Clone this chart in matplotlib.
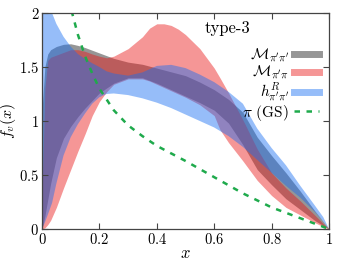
import numpy as np
import matplotlib
matplotlib.use("Agg")
import matplotlib.pyplot as plt
from matplotlib.lines import Line2D

plt.rcParams['mathtext.fontset'] = 'cm'
plt.rcParams['font.family'] = ['cmr10', 'DejaVu Serif']
plt.rcParams['axes.formatter.use_mathtext'] = True

# ---- data ----
x_g = [0, 0.01, 0.02, 0.03, 0.05, 0.075, 0.1, 0.125, 0.15, 0.175, 0.2, 0.25, 0.3, 0.35,
       0.4, 0.45, 0.5, 0.55, 0.6, 0.65, 0.7, 0.75, 0.8, 0.85, 0.9, 0.95, 0.98, 1.0]
gray_up = [1.1, 1.5, 1.62, 1.66, 1.69, 1.71, 1.715, 1.70, 1.68, 1.655, 1.63, 1.58, 1.545, 1.525,
           1.49, 1.455, 1.42, 1.36, 1.29, 1.20, 1.08, 0.85, 0.68, 0.52, 0.35, 0.17, 0.07, 0.0]
gray_lo = [0.0, 0.12, 0.27, 0.42, 0.66, 0.84, 0.95, 1.04, 1.12, 1.19, 1.26, 1.35, 1.40, 1.40,
           1.35, 1.29, 1.23, 1.17, 1.10, 0.98, 0.78, 0.55, 0.41, 0.28, 0.18, 0.08, 0.03, 0.0]

x_r = [0, 0.01, 0.02, 0.03, 0.05, 0.075, 0.1, 0.125, 0.15, 0.175, 0.2, 0.225, 0.25, 0.3, 0.35,
       0.375, 0.4, 0.425, 0.45, 0.475, 0.5, 0.55, 0.6, 0.62, 0.65, 0.7, 0.75, 0.8, 0.85, 0.9, 0.95, 0.98, 1.0]
red_up = [0.3, 1.3, 1.56, 1.59, 1.61, 1.635, 1.66, 1.66, 1.645, 1.62, 1.60, 1.585, 1.60, 1.67, 1.78,
          1.86, 1.90, 1.90, 1.885, 1.85, 1.80, 1.67, 1.49, 1.40, 1.26, 1.01, 0.74, 0.52, 0.38, 0.26, 0.13, 0.05, 0.0]
red_lo = [0.0, 0.01, 0.04, 0.08, 0.20, 0.38, 0.55, 0.72, 0.88, 1.05, 1.18, 1.27, 1.34, 1.39, 1.39,
          1.37, 1.34, 1.31, 1.28, 1.25, 1.22, 1.15, 1.05, 0.92, 0.80, 0.63, 0.45, 0.31, 0.20, 0.13, 0.06, 0.02, 0.0]

x_b = [0, 0.01, 0.02, 0.035, 0.05, 0.075, 0.1, 0.125, 0.15, 0.175, 0.2, 0.225, 0.25, 0.3, 0.35,
       0.4, 0.45, 0.5, 0.55, 0.6, 0.65, 0.7, 0.75, 0.8, 0.85, 0.9, 0.95, 0.98, 1.0]
blue_up = [3.0, 2.6, 2.3, 2.0, 1.9, 1.78, 1.69, 1.62, 1.575, 1.535, 1.50, 1.46, 1.44, 1.42, 1.45,
           1.51, 1.52, 1.49, 1.43, 1.36, 1.27, 1.16, 0.93, 0.75, 0.59, 0.40, 0.22, 0.11, 0.0]
blue_lo = [0.0, 0.06, 0.13, 0.24, 0.42, 0.68, 0.85, 0.97, 1.07, 1.16, 1.22, 1.25, 1.255, 1.24, 1.21,
           1.17, 1.12, 1.06, 1.00, 0.94, 0.86, 0.76, 0.64, 0.52, 0.40, 0.29, 0.16, 0.07, 0.0]

x_gs = [0.08, 0.1, 0.125, 0.15, 0.175, 0.2, 0.25, 0.3, 0.35, 0.4, 0.45, 0.5, 0.55, 0.6, 0.65,
        0.7, 0.75, 0.8, 0.85, 0.9, 0.95, 1.0]
gs = [2.45, 2.05, 1.80, 1.60, 1.44, 1.30, 1.10, 0.96, 0.86, 0.77, 0.70, 0.63, 0.555, 0.48, 0.405,
      0.33, 0.265, 0.20, 0.15, 0.10, 0.05, 0.0]

labels = [r"$\mathcal{M}_{\pi'\pi'}$", r"$\mathcal{M}_{\pi'\pi}$", r"$h^{R}_{\pi'\pi'}$", r"$\pi$ (GS)"]
xticks = [0, 0.2, 0.4, 0.6, 0.8, 1]
xticklabels = ["$0$", "$0.2$", "$0.4$", "$0.6$", "$0.8$", "$1$"]
yticks = [0, 0.5, 1, 1.5, 2]
yticklabels = ["$0$", "$0.5$", "$1$", "$1.5$", "$2$"]

# ---- style ----
A = 0.45
c_gray = '#161616'
c_red = '#e91616'
c_blue = '#166ef3'
c_green = '#1faa4c'

fig = plt.figure(figsize=(3.46, 2.60), dpi=100)
ax = fig.add_axes([42/346, 31/260, 287/346, 216/260])

ax.fill_between(x_g, gray_lo, gray_up, color=c_gray, alpha=A, lw=0)
ax.fill_between(x_r, red_lo, red_up, color=c_red, alpha=A, lw=0)
ax.fill_between(x_b, blue_lo, blue_up, color=c_blue, alpha=A, lw=0)
ax.plot(x_gs, gs, color=c_green, lw=1.8, dashes=(2.2, 2.6))

ax.set_xlim(0, 1)
ax.set_ylim(0, 2)
ax.set_xticks(xticks)
ax.set_xticklabels(xticklabels)
ax.set_yticks(yticks)
ax.set_yticklabels(yticklabels)
ax.tick_params(direction='in', top=True, right=True, length=4, width=0.8,
               labelsize=10.5, pad=2, color='#444444')
for s in ax.spines.values():
    s.set_color('#444444')
    s.set_linewidth(0.9)

ax.set_xlabel("$x$", fontsize=12, labelpad=-1)
ax.set_ylabel("$f_v(x)$", fontsize=11.5)
ax.yaxis.set_label_coords(-0.082, 0.5)

ax.text(0.565, 1.93, "type-3", fontsize=12, va='top', ha='left')

handles = [Line2D([], [], color=c_gray, alpha=A, lw=5),
           Line2D([], [], color=c_red, alpha=A, lw=5),
           Line2D([], [], color=c_blue, alpha=A, lw=5),
           Line2D([], [], color=c_green, lw=1.8, dashes=(2.2, 2.6))]
ax.legend(handles, labels, loc='upper right', bbox_to_anchor=(0.965, 0.845), frameon=False,
          markerfirst=False, fontsize=11, labelspacing=-0.08, handlelength=1.65,
          handletextpad=0.3, borderaxespad=0.0, borderpad=0.0)

fig.savefig("out.png", dpi=100)
